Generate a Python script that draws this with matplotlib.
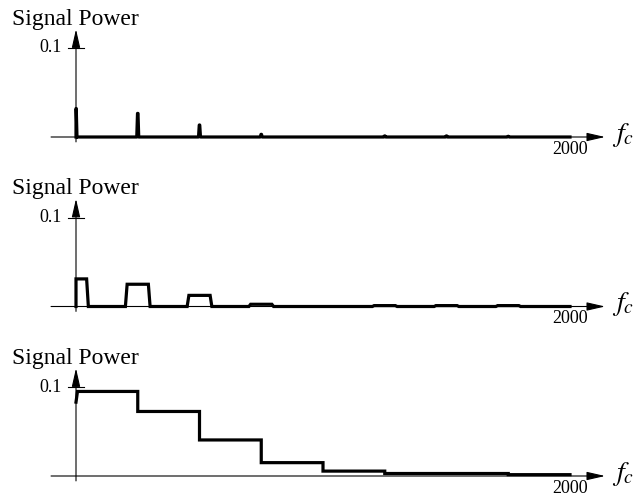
import matplotlib
matplotlib.use("Agg")
import matplotlib.pyplot as plt
import numpy as np

plt.rcParams['font.family'] = ['Liberation Serif', 'DejaVu Serif']
plt.rcParams['mathtext.fontset'] = 'stix'

# ---- data ----
harmonic_freqs = [0, 250, 500, 750, 1000, 1250, 1500, 1750]
spike_heights = [0.032, 0.0265, 0.0135, 0.003, 0.0, 0.0012, 0.0012, 0.0008]
band_heights = [0.031, 0.025, 0.0125, 0.0025, 0.0, 0.001, 0.001, 0.001]
step_edges = [0, 250, 500, 750, 1000, 1250, 1750, 2000]
step_levels = [0.095, 0.0725, 0.0405, 0.015, 0.0055, 0.0028, 0.0015]
step_start = 0.083
f_max = 2000
y_tick = 0.1
y_label = "Signal Power"
x_label = r"$f_c$"

# ---- layout (pixels) ----
W, H = 637, 500
x0_px = 76.0
px_per_unit_x = (570.0 - 76.0) / 2000.0
px_per_unit_y = 890.0
baselines = [137.0, 306.5, 476.0]
above, below = 137.0, 24.0

fig = plt.figure(figsize=(W / 100, H / 100), dpi=100)

xlim = (-x0_px / px_per_unit_x, (W - x0_px) / px_per_unit_x)
ylim = (-below / px_per_unit_y, above / px_per_unit_y)

LW_DATA = 2.3
LW_AX = 0.8
ARROW = '-|>,head_length=0.7,head_width=0.16'


def spike_path(freqs, heights, hw_bot, hw_top):
    xs, ys = [0.0], [0.0]
    for c, h in zip(freqs, heights):
        if h <= 0:
            continue
        if c == 0:
            xs += [0, 0, hw_top, hw_bot]
            ys += [0, h, h, 0]
        else:
            xs += [c - hw_bot, c - hw_top, c + hw_top, c + hw_bot]
            ys += [0, h, h, 0]
    xs.append(f_max)
    ys.append(0.0)
    return np.array(xs), np.array(ys)


def step_path(edges, levels, start):
    xs, ys = [0.0, 6.0], [start, levels[0]]
    for i, lv in enumerate(levels):
        xs += [edges[i] if i > 0 else 6.0, edges[i + 1]]
        ys += [lv, lv]
    return np.array(xs), np.array(ys)


def draw_axes(ax):
    # x axis with arrow
    ax.annotate('', xy=(2142, 0), xytext=(-101, 0),
                arrowprops=dict(arrowstyle=ARROW, lw=LW_AX, color='black',
                                mutation_scale=16, shrinkA=0, shrinkB=0),
                annotation_clip=False)
    # y axis with arrow
    ax.annotate('', xy=(0, 0.121), xytext=(0, -0.0055),
                arrowprops=dict(arrowstyle=ARROW, lw=LW_AX, color='black',
                                mutation_scale=16, shrinkA=0, shrinkB=0),
                annotation_clip=False)
    # tick at 0.1
    ax.plot([-33, 32], [y_tick, y_tick], color='black', lw=LW_AX, clip_on=False)
    ax.text(-56, y_tick, "0.1", ha='right', va='center', fontsize=13)
    ax.text(-259, 0.126, y_label, ha='left', va='baseline', fontsize=17)
    ax.text(f_max, -0.0135, str(f_max), ha='center', va='center', fontsize=13)
    ax.text(2170, -0.004, x_label, ha='left', va='baseline', fontsize=20)


axes = []
for b in baselines:
    bottom = (H - (b + below)) / H
    ax = fig.add_axes([0, bottom, 1, (above + below) / H])
    ax.set_xlim(*xlim)
    ax.set_ylim(*ylim)
    ax.axis('off')
    draw_axes(ax)
    axes.append(ax)

# panel 1: spikes
xs, ys = spike_path(harmonic_freqs, spike_heights, 4, 1)
axes[0].plot(xs, ys, color='black', lw=LW_DATA, solid_joinstyle='round', clip_on=False)

# panel 2: bands
xs, ys = spike_path(harmonic_freqs, band_heights, 50, 43)
axes[1].plot(xs, ys, color='black', lw=LW_DATA, solid_joinstyle='miter', clip_on=False)

# panel 3: steps
xs, ys = step_path(step_edges, step_levels, step_start)
axes[2].plot(xs, ys, color='black', lw=LW_DATA, solid_joinstyle='miter', clip_on=False)

fig.savefig("out.png", dpi=100)
